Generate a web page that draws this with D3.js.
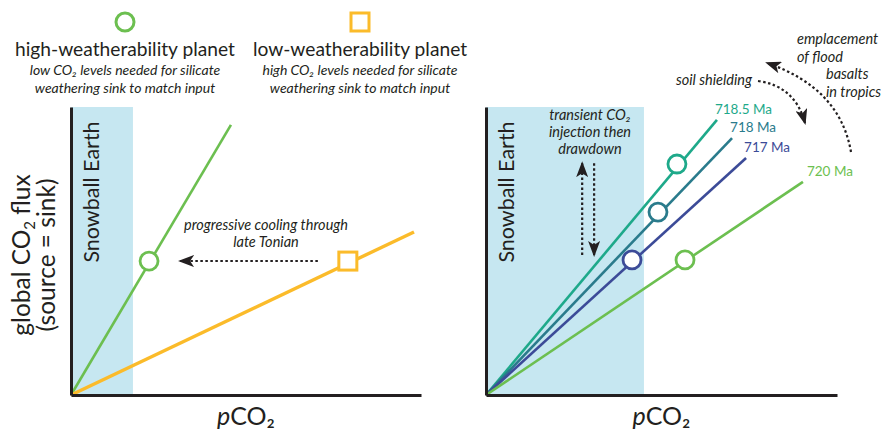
<!DOCTYPE html>
<html>
<head>
<meta charset="utf-8">
<script src="https://cdn.jsdelivr.net/npm/d3@7/dist/d3.min.js"></script>
<style>
  html, body { margin: 0; padding: 0; background: #fff; }
  svg { display: block; font-family: Lato, "Open Sans", sans-serif; }
  .ink { fill: #231f20; }
</style>
</head>
<body>
<svg id="chart" width="881" height="434"></svg>
<script>
// ── Data ──────────────────────────────────────────────────────────────────
// both panels: pCO2 (x) and flux (y) on an arbitrary 0–100 scale

const LEFT_NAMES   = ['high-weatherability planet', 'low-weatherability planet'];
const LEFT_NOTES   = [
  ['low CO₂ levels needed for silicate', 'weathering sink to match input'],
  ['high CO₂ levels needed for silicate', 'weathering sink to match input'],
];
const LEFT_END_X   = [45.7, 98.0];
const LEFT_END_Y   = [93.8, 56.6];
const LEFT_MARK_X  = [22.3, 79.1];
const LEFT_MARK_Y  = [46.5, 46.5];
const LEFT_SNOWBALL = [0, 17.7];

const RIGHT_AGES   = ['718.5 Ma', '718 Ma', '717 Ma', '720 Ma'];
const RIGHT_END_X  = [65.8, 70.1, 74.1, 90.3];
const RIGHT_END_Y  = [95.5, 89.2, 82.3, 74.0];
const RIGHT_MARK_X = [54.4, 49.0, 41.6, 56.7];
const RIGHT_MARK_Y = [80.2, 63.5, 46.9, 46.9];
const RIGHT_SNOWBALL = [0, 45];

const INK    = '#231f20';
const ICE    = '#c6e7f1';
const GREEN  = '#6cbf50';
const ORANGE = '#fbbb2a';
const AGE_COLORS = ['#1ea98a', '#2a7b8c', '#3c4b98', '#6cbf50'];

// ── Setup ─────────────────────────────────────────────────────────────────

const svg = d3.select('#chart');

const defs = svg.append('defs');
defs.append('marker')
  .attr('id', 'head')
  .attr('viewBox', '0 -6 16 12')
  .attr('refX', 14).attr('refY', 0)
  .attr('markerUnits', 'userSpaceOnUse')
  .attr('markerWidth', 16).attr('markerHeight', 12)
  .attr('orient', 'auto')
  .append('path')
  .attr('d', 'M0,-6L16,0L0,6L4,0Z')
  .attr('fill', INK);

function makePanel(x0, x1) {
  const x = d3.scaleLinear().domain([0, 100]).range([x0, x1]);
  const y = d3.scaleLinear().domain([0, 100]).range([395, 107]);
  return { x: x, y: y };
}

function drawAxes(p) {
  const gx = svg.append('g').attr('transform', 'translate(0,' + p.y(0) + ')')
    .call(d3.axisBottom(p.x).tickValues([]).tickSizeOuter(0));
  const gy = svg.append('g').attr('transform', 'translate(' + p.x(0) + ',0)')
    .call(d3.axisLeft(p.y).tickValues([]).tickSizeOuter(0));
  [gx, gy].forEach(function (g) {
    g.select('.domain').attr('stroke', INK).attr('stroke-width', 3);
  });
}

function snowball(p, range) {
  svg.append('rect')
    .attr('x', p.x(range[0])).attr('y', p.y(100))
    .attr('width', p.x(range[1]) - p.x(range[0]))
    .attr('height', p.y(0) - p.y(100))
    .attr('fill', ICE);
  svg.append('text')
    .attr('class', 'ink')
    .attr('transform', 'translate(' + (p.x(range[0]) + 28) + ',' + 192 + ') rotate(-90)')
    .attr('text-anchor', 'middle')
    .attr('font-size', 21.5)
    .text('Snowball Earth');
}

function xLabel(p) {
  const t = svg.append('text').attr('class', 'ink')
    .attr('x', p.x(50)).attr('y', 425)
    .attr('text-anchor', 'middle').attr('font-size', 25);
  t.append('tspan').attr('font-style', 'italic').text('p');
  t.append('tspan').text('CO₂');
}

function dotted(d, width) {
  return svg.append('path')
    .attr('d', d)
    .attr('fill', 'none')
    .attr('stroke', INK)
    .attr('stroke-width', width || 2.2)
    .attr('stroke-dasharray', '2.5,2.5')
    .attr('marker-end', 'url(#head)');
}

function italicLines(xc, y0, lines, size, gap, anchor) {
  const t = svg.append('text').attr('class', 'ink')
    .attr('font-style', 'italic').attr('font-size', size)
    .attr('text-anchor', anchor || 'middle');
  lines.forEach(function (s, i) {
    t.append('tspan').attr('x', Array.isArray(xc) ? xc[i] : xc)
      .attr('y', y0 + i * gap).text(s);
  });
  return t;
}

// ── Left panel ────────────────────────────────────────────────────────────

const L = makePanel(71, 421);
snowball(L, LEFT_SNOWBALL);

const leftColors = [GREEN, ORANGE];
const leftWidths = [2.6, 3.4];
LEFT_NAMES.forEach(function (name, i) {
  svg.append('line')
    .attr('x1', L.x(0)).attr('y1', L.y(0))
    .attr('x2', L.x(LEFT_END_X[i])).attr('y2', L.y(LEFT_END_Y[i]))
    .attr('stroke', leftColors[i]).attr('stroke-width', leftWidths[i]);
});

// markers
svg.append('circle')
  .attr('cx', L.x(LEFT_MARK_X[0])).attr('cy', L.y(LEFT_MARK_Y[0])).attr('r', 9)
  .attr('fill', '#fff').attr('stroke', GREEN).attr('stroke-width', 2.8);
svg.append('rect')
  .attr('x', L.x(LEFT_MARK_X[1]) - 9).attr('y', L.y(LEFT_MARK_Y[1]) - 9)
  .attr('width', 18).attr('height', 18)
  .attr('fill', '#fff').attr('stroke', ORANGE).attr('stroke-width', 3);

// cooling arrow: from square back to circle
dotted('M' + (L.x(LEFT_MARK_X[1]) - 30) + ',' + L.y(LEFT_MARK_Y[1]) +
       'L' + (L.x(LEFT_MARK_X[0]) + 31) + ',' + L.y(LEFT_MARK_Y[0]), 2);
italicLines(266, 230, ['progressive cooling through', 'late Tonian'], 14.5, 17);

drawAxes(L);
xLabel(L);

// y label
const yl = svg.append('text').attr('class', 'ink')
  .attr('transform', 'translate(30,255) rotate(-90)')
  .attr('text-anchor', 'middle').attr('font-size', 24.5);
yl.append('tspan').attr('x', 0).attr('y', 0).text('global CO');
yl.append('tspan').attr('font-size', 15).attr('dy', 5).text('2');
yl.append('tspan').attr('dy', -5).text(' flux');
svg.append('text').attr('class', 'ink')
  .attr('transform', 'translate(55,255) rotate(-90)')
  .attr('text-anchor', 'middle').attr('font-size', 24.5)
  .text('(source = sink)');

// legend
const legendX = [125, 360];
svg.append('circle').attr('cx', legendX[0]).attr('cy', 22).attr('r', 9)
  .attr('fill', '#fff').attr('stroke', GREEN).attr('stroke-width', 3);
svg.append('rect').attr('x', legendX[1] - 9).attr('y', 13).attr('width', 18).attr('height', 18)
  .attr('fill', '#fff').attr('stroke', ORANGE).attr('stroke-width', 3);
LEFT_NAMES.forEach(function (name, i) {
  svg.append('text').attr('class', 'ink')
    .attr('x', legendX[i]).attr('y', 56)
    .attr('text-anchor', 'middle').attr('font-size', 19.2)
    .text(name);
  italicLines(legendX[i], 75, LEFT_NOTES[i], 14, 18);
});

// ── Right panel ───────────────────────────────────────────────────────────

const R = makePanel(486, 837);
snowball(R, RIGHT_SNOWBALL);

RIGHT_AGES.forEach(function (age, i) {
  svg.append('line')
    .attr('x1', R.x(0)).attr('y1', R.y(0))
    .attr('x2', R.x(RIGHT_END_X[i])).attr('y2', R.y(RIGHT_END_Y[i]))
    .attr('stroke', AGE_COLORS[i]).attr('stroke-width', 2.6);
});
RIGHT_AGES.forEach(function (age, i) {
  svg.append('circle')
    .attr('cx', R.x(RIGHT_MARK_X[i])).attr('cy', R.y(RIGHT_MARK_Y[i])).attr('r', 9)
    .attr('fill', '#fff').attr('stroke', AGE_COLORS[i]).attr('stroke-width', 2.8);
  svg.append('text')
    .attr('x', R.x(RIGHT_END_X[i]) + (i === 3 ? 4 : -2))
    .attr('y', R.y(RIGHT_END_Y[i]) - 6)
    .attr('font-size', 13.5)
    .attr('fill', AGE_COLORS[i])
    .text(age);
});

// transient CO2 injection
italicLines(590, 120, ['transient CO₂', 'injection then', 'drawdown'], 14.5, 17);
dotted('M' + R.x(27.4) + ',' + R.y(48.6) + 'L' + R.x(27.4) + ',' + R.y(80.5));
dotted('M' + R.x(30.8) + ',' + R.y(80.5) + 'L' + R.x(30.8) + ',' + R.y(48.6));

// soil shielding & flood basalts
svg.append('text').attr('class', 'ink')
  .attr('x', 752).attr('y', 85).attr('text-anchor', 'end')
  .attr('font-style', 'italic').attr('font-size', 14.5).text('soil shielding');
dotted('M758,81Q795,86 805,123');
italicLines([797, 797, 826, 826], 44,
  ['emplacement', 'of flood', 'basalts', 'in tropics'], 14.5, 17.7, 'start');
dotted('M851,152Q840,88 767,63');

drawAxes(R);
xLabel(R);
</script>
</body>
</html>
